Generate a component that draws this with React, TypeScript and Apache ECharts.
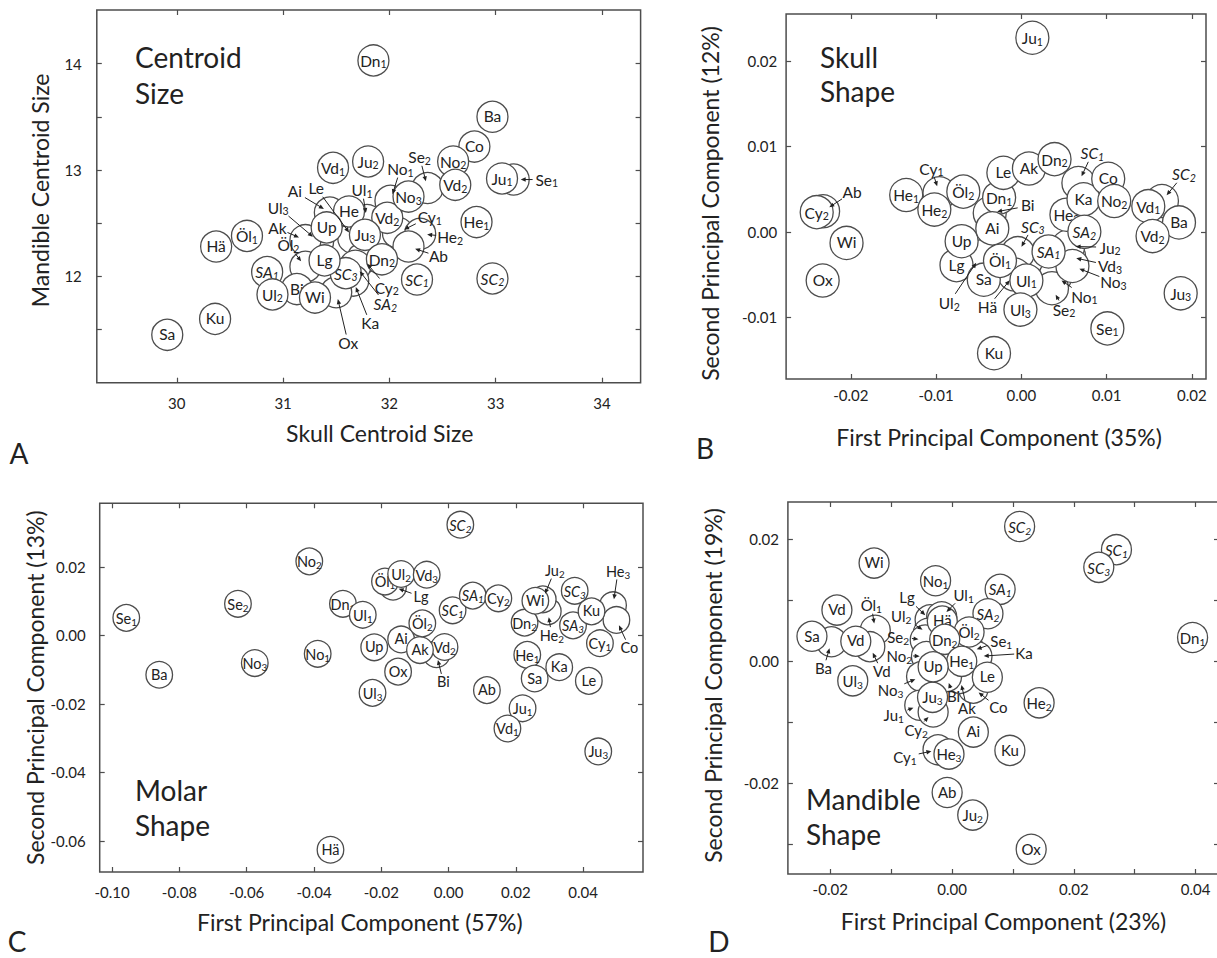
import React, { useEffect, useRef } from "react";
import * as echarts from "echarts";

const FONT = "Lato, 'Open Sans', 'DejaVu Sans', sans-serif";
const INK = "#222";
const LINE = "#4d4d4d";

// ---------------- Panel A : Centroid size ----------------
const aNames = ["Sa", "Ku", "Hä", "Öl₁", "SA₁", "Bi", "Ul₂", "Wi", "SC₃", "Lg", "He", "Vd₂", "Up", "Ju₃", "Dn₂", "Vd₁", "Ju₂", "No₃", "Dn₁", "Ba", "Co", "No₂", "Vd₂", "Ju₁", "He₁", "SC₁", "SC₂"];
const aX = [29.91, 30.36, 30.37, 30.66, 30.85, 31.13, 30.9, 31.3, 31.59, 31.39, 31.62, 31.98, 31.41, 31.77, 31.93, 31.47, 31.8, 32.18, 31.85, 32.97, 32.8, 32.6, 32.62, 33.06, 32.82, 32.26, 32.97];
const aY = [11.45, 11.6, 12.28, 12.38, 12.04, 11.88, 11.83, 11.8, 12.03, 12.15, 12.61, 12.55, 12.46, 12.39, 12.16, 13.02, 13.08, 12.75, 14.03, 13.5, 13.22, 13.08, 12.86, 12.92, 12.51, 11.97, 11.98];
const aHidNames = ["Se₁", "Se₂", "No₁", "Ul₁", "Ai", "Le", "Ul₃", "Ak", "Öl₂", "Cy₁", "He₂", "Ab", "Cy₂", "SA₂", "Ka", "Ox"];
const aHidX = [33.17, 32.36, 32.01, 31.79, 31.44, 31.66, 31.33, 31.21, 31.21, 32.08, 32.29, 32.18, 31.75, 31.68, 31.66, 31.5];
const aHidY = [12.91, 12.83, 12.71, 12.53, 12.6, 12.36, 12.33, 12.34, 12.09, 12.41, 12.4, 12.28, 12.17, 12.1, 11.96, 11.85];

// ---------------- Panel B : Skull shape ----------------
const bNames = ["Ju₁", "Cy₂", "Wi", "Ox", "He₁", "He₂", "Öl₂", "Dn₁", "Le", "Ak", "Dn₂", "Lg", "Up", "Sa", "Ai", "Öl₁", "Ul₁", "Ul₃", "Ku", "He₃", "Ka", "SA₂", "SA₁", "Co", "No₂", "Vd₁", "Ba", "Vd₂", "Ju₃", "Se₁"];
const bX = [0.0013, -0.024, -0.0205, -0.0233, -0.0135, -0.0102, -0.0068, -0.0026, -0.0021, 0.0009, 0.0039, -0.0076, -0.007, -0.0044, -0.0034, -0.0025, 0.0006, -0.0001, -0.0032, 0.0053, 0.0073, 0.0074, 0.0032, 0.0102, 0.0109, 0.0149, 0.0185, 0.0154, 0.0187, 0.0101];
const bY = [0.0227, 0.0023, -0.0013, -0.0057, 0.0043, 0.0026, 0.0047, 0.004, 0.0069, 0.0074, 0.0085, -0.0039, -0.0011, -0.0056, 0.0004, -0.0034, -0.0057, -0.0091, -0.0142, 0.002, 0.0038, 0.0, -0.0023, 0.0062, 0.0036, 0.003, 0.0011, -0.0005, -0.0072, -0.0113];
const bHidNames = ["Ab", "Cy₁", "Bi", "SC₃", "Ul₂", "Hä", "No₁", "Se₂", "Vd₃", "Ju₂", "No₃", "SC₁", "SC₂"];
const bHidX = [-0.02325, -0.0096, -0.0037, -0.0004, -0.0048, -0.0008, 0.004, 0.0036, 0.0056, 0.0055, 0.006, 0.0067, 0.0165];
const bHidY = [0.0024, 0.0045, 0.0022, -0.0025, -0.0029, -0.005, -0.0052, -0.0066, -0.0029, -0.0017, -0.004, 0.0057, 0.0036];

// ---------------- Panel C : Molar shape ----------------
const cNames = ["Se₁", "Ba", "Se₂", "No₃", "No₂", "No₁", "Hä", "Dn₁", "Ul₁", "Öl₁", "Ul₂", "Vd₃", "Up", "Ai", "Vd₂", "Ak", "Öl₂", "Ox", "Ul₃", "SC₁", "SA₁", "Cy₂", "SC₂", "Ab", "Ju₁", "Vd₁", "Dn₂", "Wi", "SC₃", "SA₃", "Ku", "Cy₁", "He₁", "Sa", "Ka", "Le", "Ju₃"];
const cX = [-0.0958, -0.086, -0.0626, -0.0576, -0.0414, -0.0389, -0.0351, -0.0314, -0.0255, -0.0189, -0.0141, -0.0065, -0.0221, -0.0141, -0.0012, -0.0085, -0.0078, -0.015, -0.0226, 0.0012, 0.0072, 0.0148, 0.0035, 0.0114, 0.022, 0.0175, 0.0226, 0.0258, 0.0375, 0.037, 0.0425, 0.045, 0.0234, 0.0256, 0.0329, 0.0417, 0.0445];
const cY = [0.0051, -0.0115, 0.0092, -0.0081, 0.0216, -0.0054, -0.0626, 0.0092, 0.006, 0.0157, 0.0179, 0.0177, -0.0035, -0.0012, -0.0034, -0.0043, 0.0035, -0.0106, -0.0168, 0.0073, 0.0116, 0.0108, 0.0323, -0.016, -0.0213, -0.0272, 0.0037, 0.0101, 0.013, 0.0029, 0.007, -0.0023, -0.0057, -0.0126, -0.0093, -0.0133, -0.0339];
const cHidNames = ["Lg", "Bi", "He₂", "Ju₂", "He₃", "Co"];
const cHidX = [-0.0165, -0.0036, 0.0295, 0.028, 0.0489, 0.0499];
const cHidY = [0.0142, -0.0055, 0.007, 0.0105, 0.0088, 0.0045];

// ---------------- Panel D : Mandible shape ----------------
const dNames = ["SC₂", "SC₁", "SC₃", "Dn₁", "Wi", "No₁", "SA₁", "SA₂", "Vd", "Sa", "Vd", "Ul₃", "Hä", "Öl₂", "Dn₂", "He₁", "Ju₃", "Up", "Le", "Ai", "Ku", "He₂", "He₃", "Ab", "Ju₂", "Ox"];
const dX = [0.0111, 0.027, 0.0241, 0.0395, -0.0128, -0.0027, 0.0079, 0.0059, -0.0189, -0.023, -0.0158, -0.0163, -0.0016, 0.0028, -0.0012, 0.0016, -0.0032, -0.0031, 0.0058, 0.0035, 0.0095, 0.0143, -0.0005, -0.0008, 0.0034, 0.013];
const dY = [0.0221, 0.0183, 0.0154, 0.0039, 0.0161, 0.0132, 0.0118, 0.0078, 0.0084, 0.0041, 0.0033, -0.0032, 0.0066, 0.0048, 0.0036, 0.0, -0.0059, -0.0009, -0.0026, -0.0116, -0.0146, -0.0068, -0.0152, -0.0215, -0.0252, -0.0308];
const dHidNames = ["Ba", "Öl₁", "Vd", "Lg", "Ul₁", "Ul₂", "Se₂", "No₂", "Se₁", "Ka", "Co", "Ak", "Bi", "No₃", "Ju₁", "Cy₂", "Cy₁"];
const dHidX = [-0.0198, -0.0126, -0.0135, -0.0036, -0.0017, -0.0039, -0.0044, -0.0042, 0.003, 0.0041, 0.0035, 0.0013, -0.0009, -0.005, -0.0053, -0.0031, -0.0023];
const dHidY = [0.0032, 0.0051, 0.0024, 0.0068, 0.0073, 0.0046, 0.0035, 0.0008, 0.0016, 0.0008, -0.0044, -0.0028, -0.0025, -0.0025, -0.0072, -0.0083, -0.0145];

// ---------------- tick values ----------------
const aXTicks = [30, 31, 32, 33, 34];
const aYTicks = [11.5, 12, 12.5, 13, 13.5, 14];
const aYLabels = [12, 13, 14];
const bXTicks = [-0.02, -0.01, 0, 0.01, 0.02];
const bYTicks = [-0.01, 0, 0.01, 0.02];
const cXTicks = [-0.1, -0.08, -0.06, -0.04, -0.02, 0, 0.02, 0.04];
const cYTicks = [-0.06, -0.04, -0.02, 0, 0.02];
const dXTicks = [-0.02, -0.01, 0, 0.01, 0.02, 0.03, 0.04];
const dXLabels = [-0.02, 0, 0.02, 0.04];
const dYTicks = [-0.03, -0.02, -0.01, 0, 0.01, 0.02];
const dYLabels = [-0.02, 0, 0.02];

// ---------------- layout: pixel offsets of the callout labels ----------------
const aCallout = [[33, 0], [-8, -31], [10, -32], [-5, -30], [-35, -21], [-37, -50], [-40, -34], [-28, -12], [-17, -22], [32, -16], [30, 3], [30, 10], [24, 29], [30, 38], [17, 43], [12, 51]];
const bCallout = [[29, -19], [-8, -25], [38, -7], [15, -27], [-31, 46], [-27, 33], [29, 20], [12, 21], [41, 9], [42, 1], [41, 16], [14, -30], [22, -27]];
const cCallout = [[28, 10], [7, 28], [4, 24], [12, -29], [5, -34], [13, 28]];
const dCallout = [[-8, 27], [-4, -25], [12, 25], [-23, -22], [22, -22], [-27, -17], [-27, -3], [-27, -1], [31, -11], [47, -3], [25, 20], [7, 30], [7, 20], [-31, 13], [-26, 10], [-17, 18], [-33, 7]];

type Panel = {
  names: string[]; xs: number[]; ys: number[];
  hidNames: string[]; hidXs: number[]; hidYs: number[]; callout: number[][];
  grid: { left: number; top: number; width: number; height: number };
  xMin: number; xMax: number; yMin: number; yMax: number;
  xTicks: number[]; xLabels: number[]; yTicks: number[]; yLabels: number[]; digits: number;
  xName: string; yName: string; xNameGap: number; yNameGap: number; xNamePad: number[]; yNamePad: number[];
  xLabelMargin: number; yLabelMargin: number;
  r: number; fs: number;
};

const panels: Panel[] = [
  {
    names: aNames, xs: aX, ys: aY, hidNames: aHidNames, hidXs: aHidX, hidYs: aHidY, callout: aCallout,
    grid: { left: 96.8, top: 10, width: 543.8, height: 372.7 },
    xMin: 29.247, xMax: 34.364, yMin: 11.0, yMax: 14.504,
    xTicks: aXTicks, xLabels: aXTicks, yTicks: aYTicks, yLabels: aYLabels, digits: 0,
    xName: "Skull Centroid Size", yName: "Mandible Centroid Size", xNameGap: 39, yNameGap: 45, xNamePad: [0, 0, 0, 22], yNamePad: [0, 0, 0, 12],
    xLabelMargin: 13, yLabelMargin: 15, r: 15.5, fs: 15.5,
  },
  {
    names: bNames, xs: bX, ys: bY, hidNames: bHidNames, hidXs: bHidX, hidYs: bHidY, callout: bCallout,
    grid: { left: 786.1, top: 14, width: 419.9, height: 365 },
    xMin: -0.02759, xMax: 0.02167, yMin: -0.01722, yMax: 0.02548,
    xTicks: bXTicks, xLabels: bXTicks, yTicks: bYTicks, yLabels: bYTicks, digits: 2,
    xName: "First Principal Component (35%)", yName: "Second Principal Component (12%)", xNameGap: 46, yNameGap: 65, xNamePad: [0, 0, 0, 6], yNamePad: [0, 14, 0, 0],
    xLabelMargin: 8, yLabelMargin: 9, r: 16.5, fs: 15.5,
  },
  {
    names: cNames, xs: cX, ys: cY, hidNames: cHidNames, hidXs: cHidX, hidYs: cHidY, callout: cCallout,
    grid: { left: 99.7, top: 503.3, width: 543.3, height: 368.7 },
    xMin: -0.1037, xMax: 0.0578, yMin: -0.0691, yMax: 0.03855,
    xTicks: cXTicks, xLabels: cXTicks, yTicks: cYTicks, yLabels: cYTicks, digits: 2,
    xName: "First Principal Component (57%)", yName: "Second Principal Component (13%)", xNameGap: 38, yNameGap: 52, xNamePad: [0, 23, 0, 0], yNamePad: [0, 0, 0, 0],
    xLabelMargin: 12, yLabelMargin: 14, r: 13.3, fs: 14.5,
  },
  {
    names: dNames, xs: dX, ys: dY, hidNames: dHidNames, hidXs: dHidX, hidYs: dHidY, callout: dCallout,
    grid: { left: 787.9, top: 502, width: 431.1, height: 372 },
    xMin: -0.02695, xMax: 0.04384, yMin: -0.03485, yMax: 0.02611,
    xTicks: dXTicks, xLabels: dXLabels, yTicks: dYTicks, yLabels: dYLabels, digits: 2,
    xName: "First Principal Component (23%)", yName: "Second Principal Component (19%)", xNameGap: 35, yNameGap: 63, xNamePad: [0, 0, 0, 0], yNamePad: [0, 0, 0, 5],
    xLabelMargin: 7, yLabelMargin: 9, r: 15, fs: 15,
  },
];

const SUB: Record<string, string> = { "₁": "1", "₂": "2", "₃": "3" };
const isItalic = (s: string) => /^S[AC]/.test(s);
const tickStyle = { show: true, inside: true, length: 5, lineStyle: { color: LINE, width: 1.2 } };

// label with a real subscript, through rich text
function labelEl(s: string, x: number, y: number, fs: number) {
  const last = s.slice(-1);
  const style = isItalic(s) ? "italic" : "normal";
  const hasSub = !!SUB[last];
  const n = { fontSize: fs, fontFamily: FONT, fontStyle: style, fill: INK, lineHeight: fs * 1.1, verticalAlign: "top" };
  const sub = { fontSize: fs * 0.68, fontFamily: FONT, fontStyle: style, fill: INK, lineHeight: fs * 0.8, padding: [fs * 0.42, 0, 0, 0], verticalAlign: "bottom" };
  const text = hasSub ? `{n|${s.slice(0, -1)}}{s|${SUB[last]}}` : `{n|${s}}`;
  return {
    type: "text",
    style: { text, x, y: y + (hasSub ? fs * 0.06 : 0), align: "center", verticalAlign: "middle", rich: { n, s: sub } },
  };
}

function buildOption() {
  const grids: any[] = [];
  const xAxes: any[] = [];
  const yAxes: any[] = [];
  const series: any[] = [];
  panels.forEach((p, pi) => {
    grids.push({ ...p.grid, show: true, borderColor: LINE, borderWidth: 1.5, backgroundColor: "transparent", containLabel: false, outerBoundsMode: "none" });
    const labelStyle = (vals: number[], margin: number) => ({
      show: true, customValues: vals, margin, fontSize: 15, fontFamily: FONT, color: INK,
      formatter: (v: number) => v.toFixed(p.digits),
    });
    const noLine = { show: false, onZero: false };
    xAxes.push({
      type: "value", gridIndex: pi, position: "bottom", min: p.xMin, max: p.xMax,
      axisLine: noLine, splitLine: { show: false },
      axisTick: { ...tickStyle, customValues: p.xTicks },
      axisLabel: labelStyle(p.xLabels, p.xLabelMargin),
      name: p.xName, nameLocation: "middle", nameGap: p.xNameGap,
      nameTextStyle: { fontSize: 23, fontFamily: FONT, color: INK, padding: p.xNamePad },
    });
    xAxes.push({
      type: "value", gridIndex: pi, position: "top", min: p.xMin, max: p.xMax,
      axisLine: noLine, splitLine: { show: false },
      axisTick: { ...tickStyle, customValues: p.xTicks },
      axisLabel: { show: false },
    });
    yAxes.push({
      type: "value", gridIndex: pi, position: "left", min: p.yMin, max: p.yMax,
      axisLine: noLine, splitLine: { show: false },
      axisTick: { ...tickStyle, customValues: p.yTicks },
      axisLabel: labelStyle(p.yLabels, p.yLabelMargin),
      name: p.yName, nameLocation: "middle", nameGap: p.yNameGap, nameRotate: 90,
      nameTextStyle: { fontSize: 23, fontFamily: FONT, color: INK, padding: p.yNamePad },
    });
    yAxes.push({
      type: "value", gridIndex: pi, position: "right", min: p.yMin, max: p.yMax,
      axisLine: noLine, splitLine: { show: false },
      axisTick: { ...tickStyle, customValues: p.yTicks },
      axisLabel: { show: false },
    });

    const circle = (cx: number, cy: number) => ({
      type: "circle", shape: { cx, cy, r: p.r },
      style: { fill: "#fff", stroke: LINE, lineWidth: 1.3 },
    });
    const base = { type: "custom", coordinateSystem: "cartesian2d", xAxisIndex: 2 * pi, yAxisIndex: 2 * pi, silent: true, encode: { x: 0, y: 1 } };

    // hidden (callout) circles, drawn first
    series.push({
      ...base, z: 2,
      data: p.hidXs.map((x, i) => [x, p.hidYs[i], i]),
      renderItem: (_params: any, api: any) => {
        const c = api.coord([api.value(0), api.value(1)]);
        return circle(c[0], c[1]);
      },
    });
    // labelled circles
    series.push({
      ...base, z: 3,
      data: p.xs.map((x, i) => [x, p.ys[i], i]),
      renderItem: (_params: any, api: any) => {
        const i = api.value(2) as number;
        const c = api.coord([api.value(0), api.value(1)]);
        return { type: "group", children: [circle(c[0], c[1]), labelEl(p.names[i], c[0], c[1], p.fs)] };
      },
    });
    // callout labels and arrows
    series.push({
      ...base, z: 4,
      data: p.hidXs.map((x, i) => [x, p.hidYs[i], i]),
      renderItem: (_params: any, api: any) => {
        const i = api.value(2) as number;
        const c = api.coord([api.value(0), api.value(1)]);
        const [dx, dy] = p.callout[i];
        const name = p.hidNames[i];
        const lx = c[0] + dx, ly = c[1] + dy;
        const vx = c[0] - lx, vy = c[1] - ly;
        const len = Math.hypot(vx, vy) || 1;
        const ux = vx / len, uy = vy / len;
        const hw = 0.26 * name.length * p.fs + 2;
        const hh = p.fs * 0.5 + 1;
        const t = Math.min(Math.abs(ux) > 1e-6 ? hw / Math.abs(ux) : 1e9, Math.abs(uy) > 1e-6 ? hh / Math.abs(uy) : 1e9);
        const sx = lx + ux * t, sy = ly + uy * t;
        const ed = p.r * 0.45;
        const ex = c[0] - ux * ed, ey = c[1] - uy * ed;
        const children: any[] = [labelEl(name, lx, ly, p.fs)];
        const along = (ex - sx) * ux + (ey - sy) * uy;
        if (along > 4) {
          const px = -uy, py = ux;
          children.push({
            type: "line",
            shape: { x1: sx, y1: sy, x2: ex - ux * 3, y2: ey - uy * 3 },
            style: { stroke: "#222", lineWidth: 1 },
          });
          children.push({
            type: "polygon",
            shape: { points: [[ex, ey], [ex - ux * 5 + px * 2.2, ey - uy * 5 + py * 2.2], [ex - ux * 5 - px * 2.2, ey - uy * 5 - py * 2.2]] },
            style: { fill: "#222" },
          });
        }
        return { type: "group", children };
      },
    });
  });

  const titleStyle = (text: string, x: number, y: number, lh: number) => ({
    type: "text", x, y, silent: true,
    style: { text, fontSize: 28, fontFamily: FONT, fill: INK, lineHeight: lh, align: "left", verticalAlign: "top" },
  });
  const letter = (text: string, x: number, y: number) => ({
    type: "text", x, y, silent: true,
    style: { text, fontSize: 28, fontFamily: FONT, fill: INK, align: "center", verticalAlign: "middle" },
  });

  return {
    animation: false,
    backgroundColor: "#fff",
    grid: grids,
    xAxis: xAxes,
    yAxis: yAxes,
    series,
    graphic: [
      titleStyle("Centroid\nSize", 135, 39, 36),
      titleStyle("Skull\nShape", 820, 40, 34),
      titleStyle("Molar\nShape", 135, 772, 35),
      titleStyle("Mandible\nShape", 806, 781, 35),
      letter("A", 19, 453),
      letter("B", 705, 448),
      letter("C", 17, 941),
      letter("D", 719, 941),
    ],
  };
}

export default function App() {
  const ref = useRef<HTMLDivElement>(null);
  useEffect(() => {
    if (!ref.current) return;
    const chart = echarts.init(ref.current, undefined, { renderer: "svg" });
    chart.setOption(buildOption() as any);
    return () => chart.dispose();
  }, []);
  return <div ref={ref} style={{ position: "absolute", left: 0, top: 0, width: 1217, height: 958 }} />;
}
